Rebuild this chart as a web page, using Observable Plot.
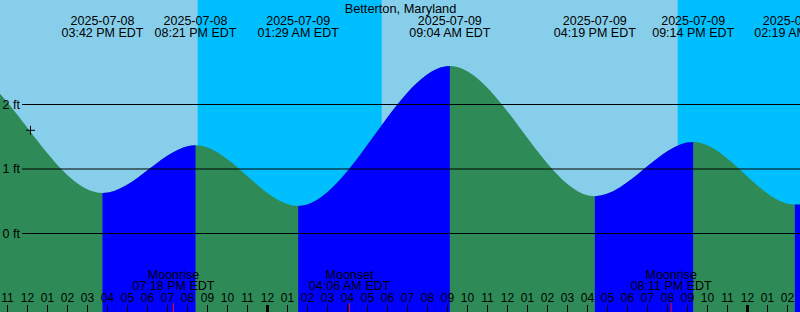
<!DOCTYPE html>
<html>
<head>
<meta charset="utf-8">
<script src="https://cdn.jsdelivr.net/npm/d3@7"></script>
<script src="https://cdn.jsdelivr.net/npm/@observablehq/plot@0.6"></script>
<style>
  html, body { margin: 0; padding: 0; background: #fff; }
</style>
</head>
<body>
<div id="chart"></div>
<script>
// ---- data (local EDT wall-clock times) ----
const title = "Betterton, Maryland";
const tideTimes   = ["2025-07-08T15:42", "2025-07-08T20:21", "2025-07-09T01:29", "2025-07-09T09:04", "2025-07-09T16:19", "2025-07-09T21:14", "2025-07-10T02:19"];
const tideHeights = [0.62, 1.36, 0.42, 2.59, 0.57, 1.41, 0.44];
// estimated extremes just outside the window, so the curve keeps its shape at the edges
const edgeBeforeTimes   = ["2025-07-08T02:40", "2025-07-08T08:15"];
const edgeBeforeHeights = [0.45, 2.62];
const edgeAfterTimes    = ["2025-07-10T10:00"];
const edgeAfterHeights  = [2.55];
const moonTimes  = ["2025-07-08T19:18", "2025-07-09T04:06", "2025-07-09T20:11"];
const moonEvents = ["Moonrise", "Moonset", "Moonrise"];
const sunTimes   = ["2025-07-08T20:32", "2025-07-09T05:44", "2025-07-09T20:32"];
const sunEvents  = ["Sunset", "Sunrise", "Sunset"];
const levelValues = [0, 1, 2];
const levelLabels = ["0 ft", "1 ft", "2 ft"];
const markerTime = "2025-07-08T12:09";
const markerHeight = 1.60;
const windowStart = "2025-07-08T10:39:00";
const windowEnd   = "2025-07-10T02:39:00";
const heightDomain = [-1.2248, 3.6124];

// ---- colours ----
const dayColor = "#87CEEB", nightColor = "#00BFFF";
const fallColor = "#2E8B57", riseColor = "#0000FF";

// ---- derived tables ----
const parseT = s => new Date(s + "Z");
const fmtDate = d3.utcFormat("%Y-%m-%d");
const fmtTime = d3.utcFormat("%I:%M %p EDT");
const fmtHour = d3.utcFormat("%I");
const t0 = parseT(windowStart), t1 = parseT(windowEnd);

const tides = tideTimes.map((t, i) => ({t: parseT(t), h: tideHeights[i]}));
const extremes = [
  ...edgeBeforeTimes.map((t, i) => ({t: parseT(t), h: edgeBeforeHeights[i]})),
  ...tides,
  ...edgeAfterTimes.map((t, i) => ({t: parseT(t), h: edgeAfterHeights[i]}))
];
const rising = [];
for (let i = 0; i < extremes.length - 1; i++) {
  if (extremes[i + 1].h > extremes[i].h) rising.push({x1: extremes[i].t, x2: extremes[i + 1].t});
}
const nights = [];
sunTimes.forEach((s, i) => {
  if (sunEvents[i] === "Sunset") {
    const next = sunTimes.slice(i + 1).find((_, j) => sunEvents[i + 1 + j] === "Sunrise");
    nights.push({x1: parseT(s), x2: next ? parseT(next) : t1});
  }
});
const moon = moonTimes.map((t, i) => ({t: parseT(t), name: moonEvents[i]}));
const hours = d3.utcHour.range(t0, t1);
const levels = levelValues.map((v, i) => ({v, label: levelLabels[i]}));
const marker = [{t: parseT(markerTime), h: markerHeight}];

const crossSymbol = {
  draw(context, size) {
    const r = Math.sqrt(size / Math.PI);
    context.moveTo(-r, 0); context.lineTo(r, 0);
    context.moveTo(0, -r); context.lineTo(0, r);
  }
};

const font = "'Liberation Sans', Arial, Helvetica, sans-serif";

const svg = Plot.plot({
  width: 800,
  height: 312,
  marginTop: 0, marginRight: 0, marginBottom: 0, marginLeft: 0,
  style: {background: dayColor, fontFamily: font, fontSize: "12.5px", color: "black"},
  x: {type: "utc", domain: [t0, t1], axis: null},
  y: {domain: heightDomain, axis: null},
  marks: [
    Plot.rect(nights, {x1: "x1", x2: "x2", y1: heightDomain[0], y2: heightDomain[1], fill: nightColor, clip: true}),
    Plot.areaY(extremes, {x: "t", y1: heightDomain[0], y2: "h", curve: "monotone-x", fill: fallColor, clip: true, dx: 1.5}),
    Plot.rect(rising, {x1: "x1", x2: "x2", y1: heightDomain[0], y2: heightDomain[1], fill: riseColor, clip: true, dx: 1.5}),
    Plot.ruleY(levels, {y: "v", stroke: "black", insetLeft: 22}),
    Plot.text(levels, {y: "v", text: "label", frameAnchor: "left", textAnchor: "start", dx: 2, fontSize: 12.5}),
    Plot.ruleX(hours, {x: d => d, stroke: "black", strokeWidth: d => d.getUTCHours() === 0 ? 3 : 1, insetTop: 305}),
    Plot.ruleX(moon, {x: "t", stroke: "#ff0000", insetTop: 303}),
    Plot.text(hours, {x: d => d, text: d => fmtHour(d), frameAnchor: "bottom", lineAnchor: "bottom", dy: -10.5, fontSize: 12}),
    Plot.text(moon, {x: "t", text: d => d.name + "\n" + fmtTime(d.t), frameAnchor: "bottom", lineAnchor: "bottom", dy: -22.5, lineHeight: 0.92, fontSize: 12.5}),
    Plot.text(tides, {x: "t", text: d => fmtDate(d.t) + "\n" + fmtTime(d.t), frameAnchor: "top", lineAnchor: "bottom", dx: 1, dy: 36, lineHeight: 0.96, fontSize: 12.5}),
    Plot.text([title], {text: d => d, frameAnchor: "top", lineAnchor: "bottom", dy: 12, fontSize: 12.8}),
    Plot.dot(marker, {x: "t", y: "h", symbol: crossSymbol, r: 4.5, stroke: "black", fill: "none", strokeWidth: 1})
  ]
});

// colour the rising parts of the tide: clip the rising bands to the tide area's own shape
const tidePath = svg.querySelector('g[aria-label="area"] path');
const rectGroups = svg.querySelectorAll('g[aria-label="rect"]');
const risingGroup = rectGroups[rectGroups.length - 1];
if (tidePath && risingGroup) {
  const ns = "http://www.w3.org/2000/svg";
  const defs = document.createElementNS(ns, "defs");
  const cp = document.createElementNS(ns, "clipPath");
  cp.setAttribute("id", "tide-clip");
  const p = document.createElementNS(ns, "path");
  p.setAttribute("d", tidePath.getAttribute("d"));
  const tr = tidePath.getAttribute("transform");
  if (tr) p.setAttribute("transform", tr);
  cp.appendChild(p);
  defs.appendChild(cp);
  svg.insertBefore(defs, svg.firstChild);
  risingGroup.querySelectorAll("rect").forEach(r => r.setAttribute("clip-path", "url(#tide-clip)"));
}

document.getElementById("chart").appendChild(svg);
</script>
</body>
</html>
